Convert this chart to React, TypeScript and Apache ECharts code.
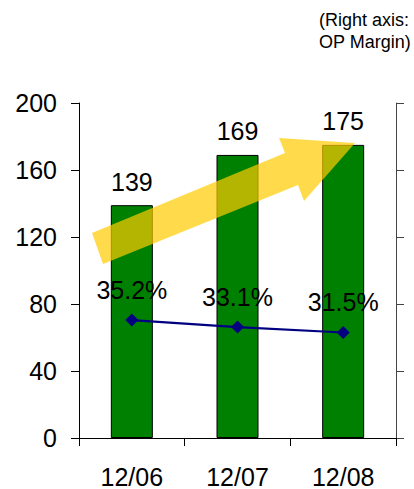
import React, { useEffect, useRef } from "react";
import * as echarts from "echarts";

const categories = ["12/06", "12/07", "12/08"];
const sales = [139, 169, 175];
const opMargin = [35.2, 33.1, 31.5];
const leftTicks = [0, 40, 80, 120, 160, 200];
const noteLines = ["(Right axis:", "OP Margin)"];

const FONT = "'Liberation Sans', Arial, sans-serif";

export default function App() {
  const ref = useRef<HTMLDivElement>(null);
  useEffect(() => {
    if (!ref.current) return;
    const chart = echarts.init(ref.current, null, { renderer: "svg" });
    chart.setOption({
      animation: false,
      backgroundColor: "#ffffff",
      textStyle: { fontFamily: FONT },
      grid: { left: 79, right: 18, top: 103, bottom: 50, containLabel: false },
      xAxis: {
        type: "category",
        data: categories,
        boundaryGap: true,
        axisLine: { show: true, lineStyle: { color: "#000", width: 1 } },
        axisTick: { show: true, length: 8, lineStyle: { color: "#000" } },
        axisLabel: { color: "#000", fontSize: 25, margin: 26, fontFamily: FONT },
        z: 3,
      },
      yAxis: [
        {
          type: "value",
          min: leftTicks[0],
          max: leftTicks[leftTicks.length - 1],
          interval: 40,
          position: "left",
          axisLine: { show: true, lineStyle: { color: "#000", width: 1 } },
          axisTick: { show: true, length: 8, lineStyle: { color: "#000" } },
          axisLabel: { color: "#000", fontSize: 25, margin: 22, fontFamily: FONT },
          splitLine: { show: false },
        },
        {
          type: "value",
          min: 0,
          max: 100,
          interval: 20,
          position: "right",
          axisLine: { show: true, lineStyle: { color: "#444", width: 1 } },
          axisTick: { show: true, length: 8, lineStyle: { color: "#444" } },
          axisLabel: { show: false },
          splitLine: { show: false },
        },
      ],
      series: [
        {
          type: "bar",
          data: sales,
          yAxisIndex: 0,
          barWidth: 42,
          itemStyle: { color: "#008000", borderColor: "#000", borderWidth: 1 },
          label: {
            show: true,
            position: "top",
            distance: 11,
            color: "#000",
            fontSize: 25,
            fontFamily: FONT,
          },
          z: 2,
        },
        {
          type: "line",
          data: opMargin,
          yAxisIndex: 1,
          symbol: "diamond",
          symbolSize: 13,
          lineStyle: { color: "#000080", width: 2.2 },
          itemStyle: { color: "#000080" },
          label: {
            show: true,
            position: "top",
            distance: 11,
            color: "#000",
            fontSize: 25,
            fontFamily: FONT,
            formatter: (p: any) => p.value.toFixed(1) + "%",
          },
          z: 5,
        },
      ],
      graphic: [
        {
          type: "polygon",
          z: 4,
          shape: {
            points: [
              [92, 233],
              [285, 153],
              [279, 138],
              [355, 143],
              [304, 201],
              [298, 185],
              [103, 264],
            ],
          },
          style: { fill: "rgba(255,204,0,0.7)" },
        },
        {
          type: "text",
          right: 3,
          top: 9,
          style: {
            text: noteLines.join("\n"),
            font: `18px ${FONT}`,
            fill: "#000",
            align: "right",
            lineHeight: 22,
          },
        },
      ],
    });
    return () => chart.dispose();
  }, []);
  return <div ref={ref} style={{ width: 414, height: 489, position: "absolute", left: 0, top: 0 }} />;
}
